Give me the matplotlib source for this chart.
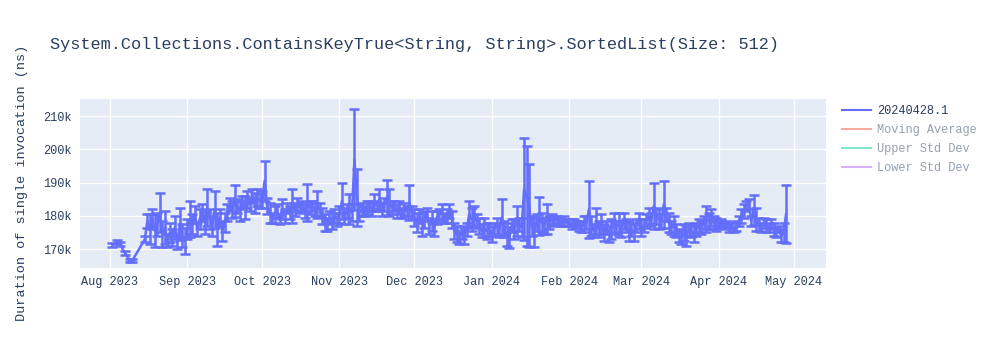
import matplotlib
matplotlib.use("Agg")
import matplotlib.pyplot as plt
import matplotlib.dates as mdates
from matplotlib.lines import Line2D
from matplotlib.ticker import FuncFormatter
import pandas as pd

plt.rcParams['font.family'] = ['Liberation Mono', 'DejaVu Sans Mono']

TITLE = "System.Collections.ContainsKeyTrue<String, String>.SortedList(Size: 512)"
Y_LABEL = "Duration of single invocation (ns)"
LEGEND_LABELS = ["20240428.1", "Moving Average", "Upper Std Dev", "Lower Std Dev"]

# run dates, grouped by month
months = ["2023-08", "2023-09", "2023-10", "2023-11", "2023-12",
          "2024-01", "2024-02", "2024-03", "2024-04"]
month_days = [
    [2, 4, 5, 7, 9, 10, 15] + list(range(16, 32)),
    list(range(1, 31)),
    list(range(1, 32)),
    list(range(1, 31)),
    list(range(1, 32)),
    list(range(1, 32)),
    list(range(1, 30)),
    list(range(1, 32)),
    list(range(1, 29)),
]

# mean duration (thousands of ns), per month
month_values = [
    [171.3, 172.2, 171.5, 168.8, 166.6, 166.6, 173.0,
     178.5, 176.0, 179.0, 175.5, 177.5, 181.0, 174.5, 176.5,
     172.5, 175.0, 173.5, 176.5, 172.0, 177.5, 174.0, 172.5],
    [176.0, 179.0, 177.5, 180.5, 176.0, 179.0, 181.0, 178.0, 182.5, 179.0,
     177.0, 182.0, 176.0, 179.5, 175.5, 178.0, 181.0, 183.5, 182.0, 184.5,
     183.0, 181.5, 184.0, 182.5, 185.0, 183.5, 186.0, 184.0, 185.5, 184.5],
    [185.0, 190.5, 183.0, 181.0, 179.5, 180.5, 181.5, 179.0, 182.0, 180.0,
     182.5, 181.0, 183.0, 182.0, 183.5, 182.5, 183.0, 181.5, 184.0, 182.5,
     183.0, 182.0, 183.5, 182.0, 180.0, 178.0, 177.5, 179.5, 178.5, 180.0,
     179.0],
    [180.5, 184.5, 180.0, 181.5, 182.0, 181.0, 197.0, 185.5, 181.0, 182.0,
     181.5, 182.5, 183.0, 182.0, 184.0, 183.0, 185.0, 182.0, 183.5, 185.5,
     184.0, 182.5, 183.0, 181.5, 182.5, 181.0, 182.0, 181.5, 184.0, 181.0],
    [179.5, 178.0, 180.0, 177.5, 179.0, 180.5, 177.0, 178.5, 176.5, 179.5,
     180.5, 181.0, 179.5, 180.0, 181.5, 179.0, 175.5, 174.5, 173.5, 175.0,
     174.0, 176.0, 180.5, 179.0, 180.0, 178.5, 177.0, 175.5, 176.5, 175.5,
     176.0],
    [174.5, 176.0, 177.0, 175.5, 179.5, 176.0, 174.5, 173.5, 177.0, 176.0,
     178.5, 177.5, 176.5, 188.0, 186.0, 183.0, 177.0, 175.0, 178.0, 180.0,
     178.0, 177.0, 179.0, 178.0, 179.0, 178.5, 179.0, 178.5, 178.0, 178.5,
     178.0],
    [178.0, 177.5, 178.0, 177.5, 177.0, 176.5, 177.5, 178.0, 182.0, 177.0,
     175.5, 178.5, 176.0, 177.5, 175.0, 176.5, 174.5, 176.0, 178.0, 176.5,
     177.5, 176.0, 178.5, 177.0, 175.5, 176.0, 175.0, 177.0, 178.5],
    [176.5, 177.0, 178.5, 180.0, 179.0, 183.0, 180.0, 179.0, 178.5, 183.5,
     180.5, 178.0, 176.5, 177.0, 175.5, 174.0, 173.5, 175.0, 174.0, 176.0,
     175.5, 174.5, 176.0, 177.0, 176.5, 178.0, 179.0, 178.5, 179.5, 178.0,
     177.5],
    [177.5, 178.0, 177.0, 177.5, 176.5, 177.0, 176.0, 177.0, 178.5, 180.0,
     181.5, 183.0, 183.5, 178.5, 181.8, 179.0, 177.5, 176.5, 178.0, 177.0,
     176.5, 177.5, 176.0, 175.0, 176.0, 174.0, 175.0, 180.5],
]

# standard deviation (thousands of ns), per month
month_errors = [
    [0.6, 0.6, 0.5, 0.5, 0.5, 0.5, 0.8,
     2.0, 4.5, 3.0, 5.0, 3.5, 5.8, 4.0, 5.0,
     2.0, 3.0, 2.5, 3.5, 2.0, 4.8, 3.5, 4.0],
    [3.0, 5.5, 3.0, 2.5, 2.0, 3.0, 2.5, 3.5, 5.5, 3.0,
     3.0, 5.5, 5.0, 2.5, 3.0, 3.0, 2.5, 2.0, 2.5, 4.8,
     2.0, 3.0, 2.0, 3.5, 2.5, 2.0, 2.0, 3.0, 2.5, 2.0],
    [2.5, 6.0, 2.5, 3.0, 1.5, 2.5, 2.0, 1.5, 3.0, 2.0,
     1.5, 2.0, 5.0, 2.0, 2.0, 1.5, 1.5, 2.0, 5.5, 2.0,
     1.5, 2.0, 4.0, 2.0, 2.5, 2.5, 2.0, 2.0, 2.5, 2.0,
     2.0],
    [2.5, 5.5, 2.5, 2.0, 4.5, 2.5, 15.2, 8.6, 2.5, 2.0,
     1.5, 2.0, 1.5, 2.0, 2.5, 1.5, 3.0, 2.0, 2.0, 5.3,
     4.0, 2.0, 1.5, 2.0, 2.0, 1.5, 2.0, 1.5, 5.3, 2.0],
    [2.5, 3.0, 2.0, 3.5, 2.5, 2.0, 2.5, 3.0, 2.5, 2.0,
     1.5, 2.5, 1.5, 2.0, 2.0, 2.5, 2.5, 2.5, 2.0, 2.0,
     2.5, 2.0, 4.0, 3.5, 3.0, 2.0, 2.5, 2.0, 3.0, 2.5,
     2.0],
    [2.5, 2.0, 2.5, 2.0, 5.5, 2.5, 3.5, 3.2, 2.0, 3.0,
     4.5, 2.0, 3.0, 15.3, 15.0, 12.5, 3.0, 4.5, 2.5, 5.8,
     3.0, 2.5, 4.5, 2.0, 1.5, 1.5, 1.0, 1.0, 1.0, 1.5,
     1.0],
    [1.0, 1.5, 1.0, 1.0, 1.5, 1.5, 2.5, 2.0, 8.6, 3.0,
     2.0, 4.0, 2.5, 3.0, 2.5, 2.0, 2.5, 3.0, 3.0, 2.0,
     3.5, 2.5, 2.5, 2.0, 3.0, 2.0, 2.5, 2.0, 2.5],
    [2.5, 2.0, 2.0, 2.5, 2.0, 7.0, 2.5, 3.0, 2.0, 7.0,
     2.0, 3.0, 2.0, 3.0, 2.0, 2.0, 2.0, 2.5, 3.0, 2.0,
     2.0, 2.5, 2.0, 2.0, 2.0, 2.0, 4.0, 2.5, 2.5, 2.0,
     2.0],
    [1.0, 1.0, 1.0, 1.0, 1.5, 1.0, 1.0, 1.5, 1.5, 2.0,
     2.0, 1.5, 1.5, 1.5, 4.5, 3.5, 2.0, 1.5, 1.5, 2.0,
     1.5, 1.5, 2.0, 1.5, 1.0, 2.0, 3.0, 8.7],
]

dates, values, errors = [], [], []
for m, days, vals, errs in zip(months, month_days, month_values, month_errors):
    for d, v, e in zip(days, vals, errs):
        dates.append(pd.Timestamp(f"{m}-{d:02d}"))
        values.append(v * 1000)
        errors.append(e * 1000)

TEXT = "#2a3f5f"
FADED = "#95a0af"

fig = plt.figure(figsize=(10, 3.5), dpi=100)
ax = fig.add_axes([0.08, 0.234, 0.746, 0.483])
ax.set_facecolor("#E5ECF6")

ax.errorbar(dates, values, yerr=errors, color="#636efa", lw=1.8,
            elinewidth=1.8, capsize=3.6, capthick=1.8, zorder=3)

ax.set_xlim(pd.Timestamp("2023-07-20"), pd.Timestamp("2024-05-14"))
ax.set_ylim(164300, 215100)
ax.set_yticks([170000, 180000, 190000, 200000, 210000])
ax.yaxis.set_major_formatter(FuncFormatter(lambda v, p: f"{v / 1000:.0f}k"))
ax.xaxis.set_major_locator(mdates.MonthLocator())
ax.xaxis.set_major_formatter(mdates.DateFormatter("%b %Y"))

ax.grid(True, color="white", lw=1, zorder=0)
ax.set_axisbelow(True)
for s in ax.spines.values():
    s.set_visible(False)
ax.tick_params(length=0, labelsize=8.6, labelcolor=TEXT, pad=6)

fig.text(0.05, 1 - 45 / 350, TITLE, fontsize=12.2, color=TEXT,
         ha="left", va="center")
fig.text(0.022, 1 - 183 / 350, Y_LABEL, fontsize=9.7, color=TEXT,
         rotation=90, ha="center", va="center")

handles = [
    Line2D([], [], color="#636efa", lw=1.5),
    Line2D([], [], color="#f7aa9d", lw=1.5),
    Line2D([], [], color="#7fe6ca", lw=1.5),
    Line2D([], [], color="#d5b1fd", lw=1.5),
]
leg = fig.legend(handles, LEGEND_LABELS, loc="upper left",
                 bbox_to_anchor=(0.842, 1 - 105 / 350), frameon=False,
                 fontsize=8.6, handlelength=2.4, handletextpad=0.5,
                 labelspacing=0.58, borderaxespad=0, borderpad=0)
for i, t in enumerate(leg.get_texts()):
    t.set_color(TEXT if i == 0 else FADED)

fig.savefig("out.png", dpi=100, facecolor="white")
